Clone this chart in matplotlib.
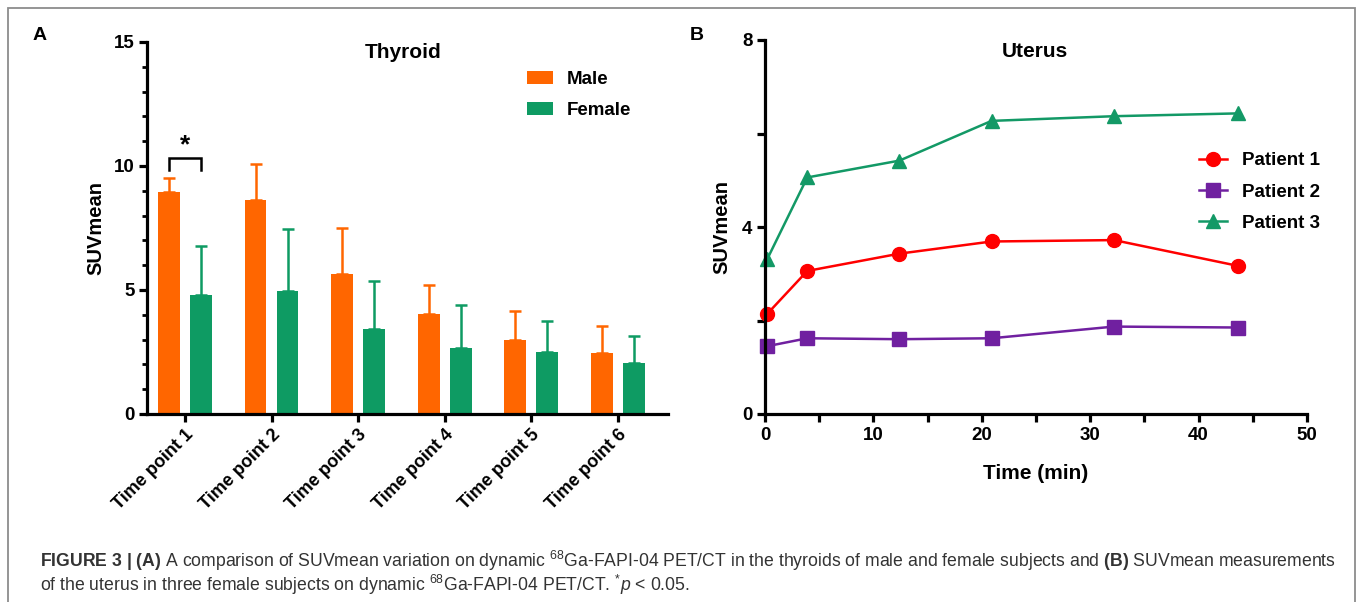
import matplotlib
matplotlib.use("Agg")
import matplotlib.pyplot as plt
import numpy as np
from matplotlib.patches import Rectangle

plt.rcParams['font.family'] = ['Liberation Sans', 'DejaVu Sans']
plt.rcParams['font.weight'] = 'bold'
plt.rcParams['mathtext.fontset'] = 'custom'
plt.rcParams['mathtext.rm'] = 'Liberation Sans:normal'
plt.rcParams['mathtext.bf'] = 'Liberation Sans:bold'
plt.rcParams['mathtext.it'] = 'Liberation Sans:italic:normal'

# panel A: thyroid SUVmean
time_points = ['Time point 1', 'Time point 2', 'Time point 3',
               'Time point 4', 'Time point 5', 'Time point 6']
male_mean = [8.94, 8.61, 5.66, 4.04, 2.99, 2.45]
male_top = [9.52, 10.09, 7.51, 5.21, 4.15, 3.55]
female_mean = [4.79, 4.94, 3.41, 2.66, 2.48, 2.05]
female_top = [6.77, 7.44, 5.35, 4.38, 3.75, 3.16]

# panel B: uterus SUVmean
time_min = [0.2, 3.9, 12.4, 20.9, 32.2, 43.6]
patient1 = [2.14, 3.06, 3.43, 3.69, 3.72, 3.17]
patient2 = [1.45, 1.62, 1.60, 1.62, 1.87, 1.85]
patient3 = [3.31, 5.06, 5.42, 6.27, 6.37, 6.43]

orange = '#FF6600'
green = '#0E9B63'

W, H = 1357, 602
fig = plt.figure(figsize=(W / 100, H / 100), dpi=100)


def frac(x0, y_top, x1, y_bot):
    return [x0 / W, 1 - y_bot / H, (x1 - x0) / W, (y_bot - y_top) / H]


def style_axes(ax):
    for s in ['top', 'right']:
        ax.spines[s].set_visible(False)
    for s in ['left', 'bottom']:
        ax.spines[s].set_linewidth(2.3)
    ax.tick_params(which='major', length=6, width=2.3, labelsize=13.5, pad=3)
    ax.tick_params(which='minor', length=3.5, width=2.0)


# ---- A ----
axA = fig.add_axes(frac(147, 42, 668, 414))
x = np.arange(len(time_points))
bw = 0.25
off = 0.185
male_err = np.array(male_top) - np.array(male_mean)
female_err = np.array(female_top) - np.array(female_mean)
axA.bar(x - off, male_mean, bw, color=orange, label='Male',
        yerr=[np.zeros(6), male_err], error_kw=dict(ecolor=orange, elinewidth=1.8, capsize=4.5, capthick=1.8))
axA.bar(x + off, female_mean, bw, color=green, label='Female',
        yerr=[np.zeros(6), female_err], error_kw=dict(ecolor=green, elinewidth=1.8, capsize=4.5, capthick=1.8))
axA.set_xlim(-0.44, 5.58)
axA.set_ylim(0, 15)
axA.set_yticks([0, 5, 10, 15])
axA.set_yticks(np.arange(0, 16, 1), minor=True)
axA.set_xticks(x)
axA.set_xticklabels(time_points, rotation=45, ha='right', rotation_mode='anchor')
style_axes(axA)
axA.tick_params(axis='x', labelsize=13)
axA.spines['left'].set_bounds(0, 15)
axA.set_ylabel('SUVmean', fontsize=14.5, fontweight='bold')
axA.yaxis.label.set_va('center')
axA.yaxis.set_label_coords(-0.098, 0.5)
axA.text(0.491, 0.973, 'Thyroid', transform=axA.transAxes, ha='center', va='center',
         fontsize=15, fontweight='bold')
axA.plot([-off, -off, off, off], [9.84, 10.32, 10.32, 9.84], color='black', lw=1.8,
         solid_joinstyle='miter')
axA.text(0, 10.85, '*', ha='center', va='center', fontsize=19, fontweight='bold')
axA.legend(loc='upper left', bbox_to_anchor=(0.729, 0.922), frameon=False, fontsize=13.5,
           borderpad=0, borderaxespad=0, handlelength=1.4, handleheight=0.65,
           handletextpad=0.75, labelspacing=0.75)

# ---- B ----
axB = fig.add_axes(frac(765, 40, 1307, 414))
lw = 1.8
axB.plot(time_min, patient1, color='#FF0000', lw=lw, marker='o', ms=10, label='Patient 1')
axB.plot(time_min, patient2, color='#7020A0', lw=lw, marker='s', ms=9.5, label='Patient 2')
axB.plot(time_min, patient3, color='#139966', lw=lw, marker='^', ms=10, label='Patient 3')
for ln in axB.lines:
    ln.set_clip_on(False)
axB.set_xlim(0, 50)
axB.set_ylim(0, 8)
axB.set_xticks(np.arange(0, 51, 10))
axB.set_xticks(np.arange(0, 51, 5), minor=True)
axB.set_yticks([0, 4, 8])
axB.set_yticks([2, 6], minor=True)
style_axes(axB)
axB.tick_params(axis='y', which='minor', length=6, width=2.3)
axB.tick_params(axis='x', which='minor', length=6, width=2.3)
axB.set_ylabel('SUVmean', fontsize=14.5, fontweight='bold')
axB.yaxis.label.set_va('center')
axB.yaxis.set_label_coords(-0.08, 0.5)
axB.set_xlabel('Time (min)', fontsize=15, fontweight='bold')
axB.xaxis.set_label_coords(0.5, -0.158)
axB.xaxis.label.set_va('center')
axB.text(0.498, 0.968, 'Uterus', transform=axB.transAxes, ha='center', va='center',
         fontsize=15, fontweight='bold')
axB.legend(loc='upper left', bbox_to_anchor=(0.80, 0.70), frameon=False, fontsize=13.5,
           borderpad=0, borderaxespad=0, handlelength=1.5, handletextpad=0.8,
           labelspacing=0.75)

# panel letters
fig.text(40 / W, 1 - 35 / H, 'A', fontsize=14, fontweight='bold', ha='center', va='center')
fig.text(697 / W, 1 - 35 / H, 'B', fontsize=14, fontweight='bold', ha='center', va='center')

# frame
fig.patches.append(Rectangle((8 / W, -0.01), (1355 - 8) / W, 1.01 - 8 / H,
                             transform=fig.transFigure, fill=False, ec='#8C8C8C', lw=1.3))

# caption
cap1 = (r'$\mathbf{FIGURE\ 3\ |\ (A)}$ A comparison of SUVmean variation on dynamic '
        r'$^{68}$Ga-FAPI-04 PET/CT in the thyroids of male and female subjects and '
        r'$\mathbf{(B)}$ SUVmean measurements')
cap2 = (r'of the uterus in three female subjects on dynamic $^{68}$Ga-FAPI-04 PET/CT. '
        r'$^{*}\mathit{p}$ < 0.05.')
fig.text(40 / W, 1 - 561 / H, cap1, fontsize=12.7, fontweight='normal', color='#333333',
         ha='left', va='center')
fig.text(40 / W, 1 - 585 / H, cap2, fontsize=12.7, fontweight='normal', color='#333333',
         ha='left', va='center')

fig.savefig('out.png', dpi=100)
